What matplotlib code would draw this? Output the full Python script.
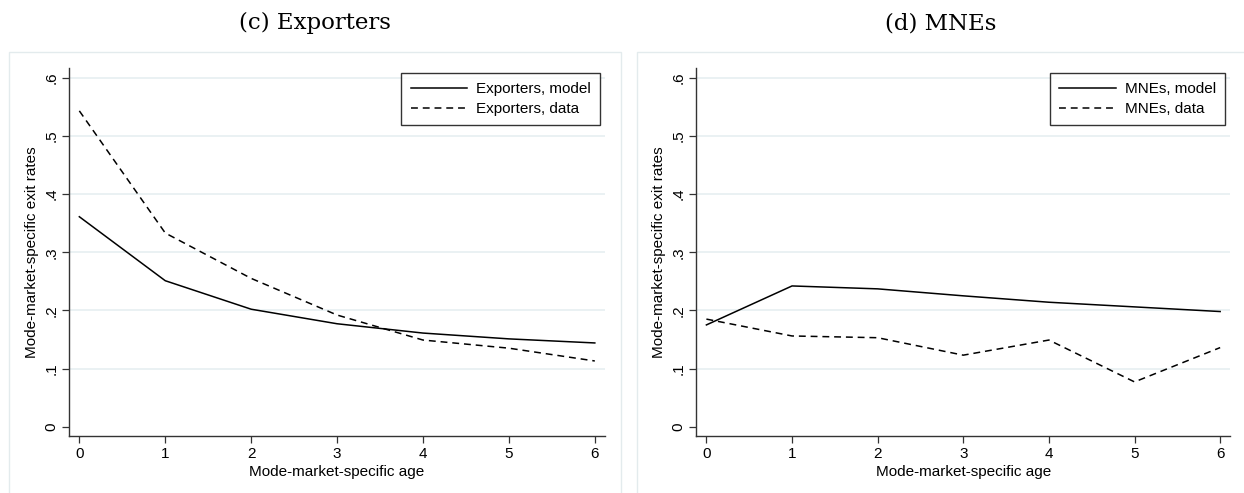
import matplotlib
matplotlib.use("Agg")
import matplotlib.pyplot as plt
from matplotlib.patches import Rectangle

ages = [0, 1, 2, 3, 4, 5, 6]
exp_model = [0.361, 0.251, 0.202, 0.177, 0.161, 0.151, 0.144]
exp_data = [0.543, 0.333, 0.255, 0.192, 0.149, 0.135, 0.113]
mne_model = [0.175, 0.242, 0.237, 0.225, 0.214, 0.206, 0.198]
mne_data = [0.185, 0.156, 0.153, 0.123, 0.149, 0.077, 0.136]
yticks = [0, 0.1, 0.2, 0.3, 0.4, 0.5, 0.6]
ytick_labels = ["0", ".1", ".2", ".3", ".4", ".5", ".6"]
titles = ["(c) Exporters", "(d) MNEs"]
labels = [("Exporters, model", "Exporters, data"), ("MNEs, model", "MNEs, data")]

W, H = 1244, 493
fig = plt.figure(figsize=(W / 100, H / 100), dpi=100)
plt.rcParams['font.family'] = ['Liberation Sans', 'DejaVu Sans']

box_col = "#e3ebed"
grid_col = "#e6eff1"

boxes = [(8.5, 620.7), (636.7, 1246)]
for (x0, x1) in boxes:
    fig.patches.append(Rectangle((x0 / W, -0.05), (x1 - x0) / W, 1 - 52.3 / H + 0.05,
                                 transform=fig.transFigure, fill=False,
                                 edgecolor=box_col, linewidth=1.0))

axes_px = [(69.2, 604.7), (696.3, 1230.0)]
ytop, ybot = 68.3, 436.3
series = [(exp_model, exp_data), (mne_model, mne_data)]

for i, ((xl, xr), (model, data)) in enumerate(zip(axes_px, series)):
    ax = fig.add_axes([xl / W, 1 - ybot / H, (xr - xl) / W, (ybot - ytop) / H])
    ax.set_xlim(-0.118, 6.115)
    ax.set_ylim(-0.0165, 0.6162)
    for yv in yticks[1:]:
        ax.axhline(yv, color=grid_col, lw=1.2, zorder=0)
    ax.plot(ages, model, color="black", lw=1.1, label=labels[i][0])
    ln, = ax.plot(ages, data, color="black", lw=1.1, label=labels[i][1])
    ln.set_dashes((4.5, 3.2))
    for s in ["top", "right"]:
        ax.spines[s].set_visible(False)
    for s in ["left", "bottom"]:
        ax.spines[s].set_linewidth(1.0)
        ax.spines[s].set_color("#333333")
    ax.set_xticks(ages)
    ax.set_xticklabels([str(a) for a in ages], fontsize=11)
    ax.set_yticks(yticks)
    ax.set_yticklabels(ytick_labels, fontsize=11, rotation=90, va="center")
    ax.tick_params(axis="both", length=4.8, width=0.9, color="#333333", pad=3)
    ax.set_xlabel("Mode-market-specific age", fontsize=11, labelpad=2.5)
    ax.set_ylabel("Mode-market-specific exit rates", fontsize=11, labelpad=4)
    leg = ax.legend(loc="upper right", bbox_to_anchor=(1, 1), borderaxespad=0.3,
                    fontsize=11, frameon=True, fancybox=False, handlelength=3.7,
                    handletextpad=0.6, borderpad=0.6, labelspacing=0.4)
    leg.get_frame().set_edgecolor("black")
    leg.get_frame().set_linewidth(1.0)
    cx = (boxes[i][0] + min(boxes[i][1], 1245.5)) / 2 / W
    fig.text(cx, 1 - 23.3 / H, titles[i], ha="center", va="center",
             fontsize=16.5, family="DejaVu Serif")

fig.savefig("out.png", dpi=100)
